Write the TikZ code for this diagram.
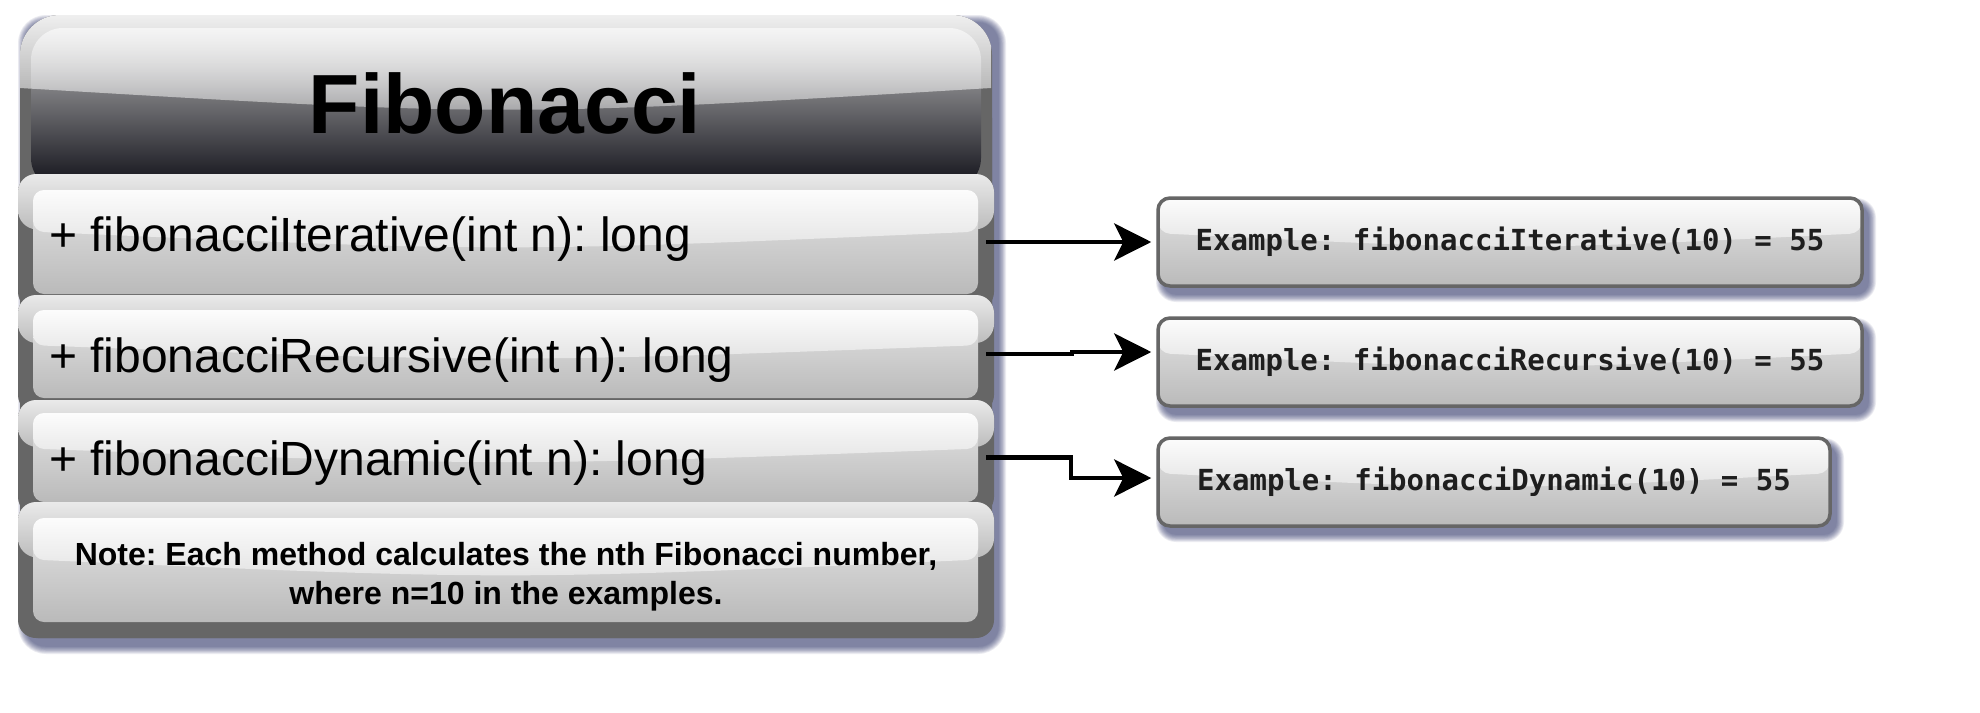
\documentclass[tikz,border=0pt]{standalone}
\usepackage{fontspec}
\setmainfont{Liberation Sans}
\newfontfamily\monofont{DejaVu Sans Mono}
\usetikzlibrary{arrows.meta,fadings,calc}
\frenchspacing

\definecolor{frame}{HTML}{666666}
\definecolor{shadowc}{HTML}{30366A}
\definecolor{hdtop}{HTML}{C0C0C0}
\definecolor{hdbot}{HTML}{0E0E16}
\definecolor{paneltop}{HTML}{E4E4E4}
\definecolor{panelbot}{HTML}{BABABA}
\definecolor{pglasstop}{HTML}{FCFCFC}
\definecolor{pglassbot}{HTML}{D1D1D1}
\definecolor{fglasstop}{HTML}{EAEAEA}
\definecolor{fglassbot}{HTML}{7A7A7A}
\definecolor{extext}{HTML}{1E1E1E}

\tikzfading[name=hdfade, top color=transparent!10, bottom color=transparent!60]

\newcommand{\softshadow}[5]{%
  \foreach \k in {0,...,9}{%
    \pgfmathsetmacro{\shE}{8-0.8*\k}%
    \pgfmathsetmacro{\shR}{#5+\shE}%
    \fill[shadowc, opacity=0.085, rounded corners=\shR pt]
      ({#1+6-\shE},{#2+8-\shE}) rectangle ({#3+6+\shE},{#4+8+\shE});
  }}

\tikzset{
  glassy/.style n args={2}{path picture={
      \shade[top color=#1, bottom color=#2]
        (path picture bounding box.north west) -- (path picture bounding box.north east)
        -- ($(path picture bounding box.north east)!0.4!(path picture bounding box.south east)$)
        .. controls ($(path picture bounding box.north)!0.6!(path picture bounding box.south)$) ..
        ($(path picture bounding box.north west)!0.4!(path picture bounding box.south west)$) -- cycle;}},
  rowframe/.style={rectangle, fill=frame, rounded corners=18pt, inner sep=0pt,
    glassy={fglasstop}{fglassbot}},
  rowpanel/.style={rectangle, top color=paneltop, bottom color=panelbot, rounded corners=11pt,
    inner sep=0pt, glassy={pglasstop}{pglassbot}},
  exbox/.style={rectangle, draw=frame, line width=3.5pt, top color=paneltop, bottom color=panelbot,
    rounded corners=12pt, inner sep=0pt, glassy={pglasstop}{pglassbot}, text=extext,
    font=\monofont\bfseries\fontsize{29}{34}\selectfont},
  conn/.style={line width=4.5pt, shorten >=5pt, -{Stealth[length=37pt,width=37pt,inset=9pt]}},
  rowtext/.style={anchor=base west, inner sep=0pt, font=\fontsize{48}{58}\selectfont},
}

\begin{document}
\begin{tikzpicture}[x=1pt, y=-1pt]
\useasboundingbox (0,0) rectangle (1980,712);
\fill[white] (0,0) rectangle (1980,712);

% ---------- class container ----------
\softshadow{20}{15}{992}{638}{20}
\fill[frame, rounded corners=40pt] (20,15) rectangle (992,400);
\fill[frame, rounded corners=18pt] (20,100) rectangle (992,638);

% header panel
\shade[top color=hdtop, bottom color=hdbot, rounded corners=32pt] (31,28) rectangle (981,190);
\begin{scope}
  \clip[rounded corners=40pt] (20,15) rectangle (992,400);
  \fill[white, path fading=hdfade] (20,15) -- (992,15) -- (992,88) .. controls (506,117) .. (20,88) -- cycle;
\end{scope}
\node[font=\bfseries\fontsize{84}{100}\selectfont, anchor=base, inner sep=0pt] (title) at (505,133) {Fibonacci};

% rows
\node[rowframe, minimum width=976pt, minimum height=136pt] (r1f) at (506,242) {};
\node[rowpanel, minimum width=945pt, minimum height=104pt] (r1) at (505.5,242) {};
\node[rowtext] (r1t) at (49,251) {+ fibonacciIterative(int n): long};

\node[rowframe, minimum width=976pt, minimum height=118pt] (r2f) at (506,354) {};
\node[rowpanel, minimum width=945pt, minimum height=88pt] (r2) at (505.5,354) {};
\node[rowtext] (r2t) at (49,372) {+ fibonacciRecursive(int n): long};

\node[rowframe, minimum width=976pt, minimum height=115pt] (r3f) at (506,457.5) {};
\node[rowpanel, minimum width=945pt, minimum height=89pt] (r3) at (505.5,457.5) {};
\node[rowtext] (r3t) at (49,475) {+ fibonacciDynamic(int n): long};

\node[rowframe, minimum width=976pt, minimum height=136pt] (r4f) at (506,570) {};
\node[rowpanel, minimum width=945pt, minimum height=104pt] (r4) at (505.5,570) {};
\node[font=\bfseries\fontsize{32}{39}\selectfont, align=center, inner sep=0pt] (note) at (506,577)
  {Note: Each method calculates the nth Fibonacci number,\\ where n=10 in the examples.};

% ---------- example boxes ----------
\softshadow{1158}{198}{1862}{286}{12}
\softshadow{1158}{318}{1862}{406}{12}
\softshadow{1158}{438}{1830}{526}{12}
\node[exbox, minimum width=704pt, minimum height=88pt] (ex1) at (1510,242) {Example: fibonacciIterative(10) = 55};
\node[exbox, minimum width=704pt, minimum height=88pt] (ex2) at (1510,362) {Example: fibonacciRecursive(10) = 55};
\node[exbox, minimum width=672pt, minimum height=88pt] (ex3) at (1494,482) {Example: fibonacciDynamic(10) = 55};

% ---------- connectors ----------
\draw[conn] ([xshift=-8pt]r1f.east) -- (ex1.west);
\draw[conn] ([xshift=-8pt]r2f.east) -- ++(86,0) |- ([yshift=10pt]ex2.west);
\draw[conn] ([xshift=-8pt]r3f.east) -- ++(85,0) |- ([yshift=4pt]ex3.west);
\end{tikzpicture}
\end{document}
